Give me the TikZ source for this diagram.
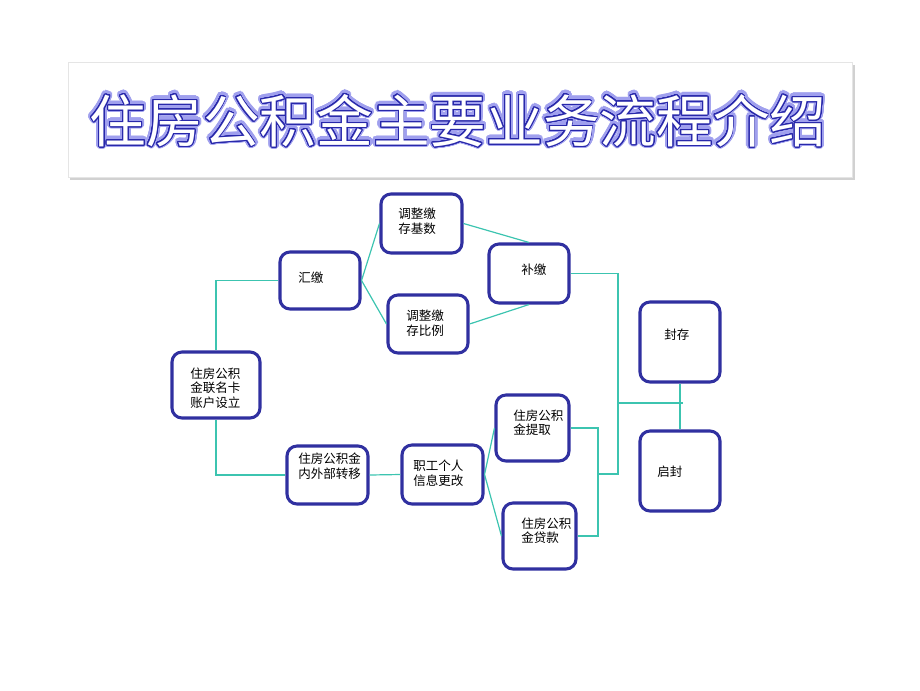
\documentclass[tikz,border=0pt]{standalone}
\usepackage{fontspec}
\setmainfont{Noto Sans CJK SC}
\newfontfamily\titlefont{Noto Sans CJK SC}
\usepackage[copies]{contour}
\usetikzlibrary{fit}
\definecolor{boxblue}{RGB}{48,48,160}
\definecolor{teal2}{RGB}{60,196,176}
\definecolor{glow}{RGB}{160,160,238}
\definecolor{tblue}{RGB}{40,40,170}
\tikzset{
  box/.style={draw=boxblue, line width=2.3pt, rounded corners=7.5pt, fill=white, inner sep=0pt},
  txt/.style={anchor=west, inner sep=0pt, align=left, font=\fontsize{9.4pt}{10.9pt}\selectfont},
  conn/.style={draw=teal2, line width=0.9pt}
}
\contournumber{32}
\begin{document}
\begin{tikzpicture}[x=0.75pt,y=-0.75pt]
\useasboundingbox (0,0) rectangle (920,690);
% title panel
\fill[black!18] (70,65) rectangle (855,180);
\fill[black!30] (69,64) rectangle (853,178);
\node[draw=black!10, fill=white, inner sep=0pt, fit={(68,62) (852,177)}] (panel) {};
\node[inner sep=0pt] (titleglow) at (458,121) {\titlefont\fontsize{42.5pt}{50pt}\selectfont\contourlength{2.4pt}\contour{glow}{\textcolor{glow}{住房公积金主要业务流程介绍}}};
\node[inner sep=0pt] (title) at (458,121) {\titlefont\fontsize{42.5pt}{50pt}\selectfont\contourlength{0.7pt}\contour{tblue}{\textcolor{white}{住房公积金主要业务流程介绍}}};

% boxes
\node[box, fit={(172,352) (260,418)}] (acct) {};
\node[box, fit={(280,252) (360,309)}] (hj) {};
\node[box, fit={(381,194) (462,253)}] (js) {};
\node[box, fit={(388,295) (468,353)}] (bl) {};
\node[box, fit={(489,244) (569,303)}] (bj) {};
\node[box, fit={(640,302) (720,382)}] (fc) {};
\node[box, fit={(640,431) (720,511)}] (qf) {};
\node[box, fit={(287,446) (368,504)}] (nw) {};
\node[box, fit={(402,445) (483,504)}] (zg) {};
\node[box, fit={(496,395) (569,461)}] (tq) {};
\node[box, fit={(503,503) (576,569)}] (dk) {};

% connectors
\coordinate (j1) at (618,474);
\coordinate (j2) at (598,474);
\coordinate (h1) at (618,403);
\coordinate (h2) at (683,403);
\draw[conn] (acct.north) |- (hj.west);
\draw[conn] (acct.south) |- (nw.west);
\draw[conn] (nw.east) -- (zg.west);
\draw[conn] (hj.east) -- (js.west);
\draw[conn] (hj.east) -- (bl.west);
\draw[conn] (js.east) -- (bj.north);
\draw[conn] (bl.east) -- (bj.south);
\draw[conn] (bj.east) -| (j1) -- (j2);
\draw[conn] (h1) -- (h2);
\draw[conn] (fc.south) -- (qf.north);
\draw[conn] (zg.east) -- (tq.west);
\draw[conn] (zg.east) -- (dk.west);
\draw[conn] (tq.east) -| (j2) |- (dk.east);

% texts
\node[txt] (tacct) at (190,388) {住房公积\\金联名卡\\账户设立};
\node[txt] (thj) at (298,278) {汇缴};
\node[txt] (tjs) at (398,221.5) {调整缴\\存基数};
\node[txt] (tbl) at (406,323) {调整缴\\存比例};
\node[txt] (tbj) at (521,270) {补缴};
\node[txt] (tfc) at (664,335) {封存};
\node[txt] (tqf) at (657,472) {启封};
\node[txt] (tnw) at (298,466) {住房公积金\\内外部转移};
\node[txt] (tzg) at (413,473) {职工个人\\信息更改};
\node[txt] (ttq) at (513,422.5) {住房公积\\金提取};
\node[txt] (tdk) at (521,530.5) {住房公积\\金贷款};
\end{tikzpicture}
\end{document}
